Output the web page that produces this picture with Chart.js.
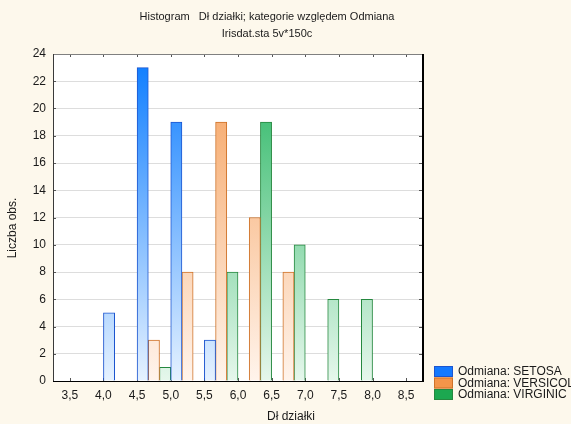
<!DOCTYPE html>
<html>
<head>
<meta charset="utf-8">
<script src="https://cdn.jsdelivr.net/npm/chart.js@4.4.1/dist/chart.umd.min.js"></script>
<style>
    html, body { margin: 0; padding: 0; background: #fdf8ec; }
    #wrap { width: 571px; height: 424px; }
</style>
</head>
<body>
<div id="wrap"><canvas id="histChart" width="571" height="424"></canvas></div>
<script>
// Bins (left edge of each 0.5 wide class) and counts per variety
const binStarts = [3.5, 4.0, 4.5, 5.0, 5.5, 6.0, 6.5, 7.0, 7.5, 8.0];
const binWidth = 0.5;
const setosaCounts     = [0, 5, 23, 19, 3, 0, 0, 0, 0, 0];
const versicolorCounts = [0, 0, 3, 8, 19, 12, 8, 0, 0, 0];
const virginicaCounts  = [0, 0, 1, 0, 8, 19, 10, 6, 6, 0];
const seriesNames = ['Odmiana: SETOSA', 'Odmiana: VERSICOL', 'Odmiana: VIRGINIC'];

// Axis ticks
const xTickValues = [3.5, 4.0, 4.5, 5.0, 5.5, 6.0, 6.5, 7.0, 7.5, 8.0, 8.5];
const xTickLabels = ['3,5', '4,0', '4,5', '5,0', '5,5', '6,0', '6,5', '7,0', '7,5', '8,0', '8,5'];
const yMax = 24;
const yStep = 2;

// Texts
const titleLines = ['Histogram   Dł działki; kategorie względem Odmiana', 'Irisdat.sta 5v*150c'];
const xAxisTitle = 'Dł działki';
const yAxisTitle = 'Liczba obs.';

// Colours for each series (gradient top -> bottom, outline, legend swatch)
const seriesStyles = [
    { top: '#0a7bff', bottom: '#e6f2ff', border: '#1c55cf', swatch: '#1479ff' },
    { top: '#f59e58', bottom: '#fff4ec', border: '#cf7228', swatch: '#f4954a' },
    { top: '#1fb35c', bottom: '#e6f7ec', border: '#25883f', swatch: '#1ca850' }
];

const FONT = '"Liberation Sans", Arial, sans-serif';

// Vertical gradient spanning the whole plot height
function barGradient(ctx, style) {
    const area = ctx.chart.chartArea;
    if (!area) return style.top;
    const g = ctx.chart.ctx.createLinearGradient(0, area.top, 0, area.bottom);
    g.addColorStop(0, style.top);
    g.addColorStop(1, style.bottom);
    return g;
}

function buildDataset(counts, i) {
    const style = seriesStyles[i];
    return {
        label: seriesNames[i],
        data: binStarts.map((b, k) => ({ x: b + binWidth / 2, y: counts[k] === 0 ? null : counts[k] })),
        backgroundColor: ctx => barGradient(ctx, style),
        borderColor: style.border,
        borderWidth: 1,
        borderSkipped: 'start',
        categoryPercentage: 1,
        barPercentage: 1
    };
}

//----PLOT FRAME, TICKS, TITLES & LEGEND----
const decorPlugin = {
    id: 'decor',
    beforeDraw(chart) {
        const { ctx, chartArea: a } = chart;
        ctx.save();
        ctx.fillStyle = '#fdf8ec';
        ctx.fillRect(0, 0, chart.width, chart.height);
        ctx.fillStyle = '#ffffff';
        ctx.fillRect(a.left, a.top, a.right - a.left, a.bottom - a.top);
        ctx.restore();
    },
    beforeDatasetsDraw(chart) {
        // Short inward tick marks on all four sides
        const { ctx, chartArea: a, scales } = chart;
        ctx.save();
        ctx.lineWidth = 1;
        ctx.strokeStyle = '#555555';
        ctx.beginPath();
        xTickValues.forEach(v => {
            const px = Math.round(scales.x.getPixelForValue(v)) + 0.5;
            ctx.moveTo(px, a.top); ctx.lineTo(px, a.top + 3);
            ctx.moveTo(px, a.bottom); ctx.lineTo(px, a.bottom - 3);
        });
        for (let v = 0; v <= yMax; v += yStep) {
            const py = Math.round(scales.y.getPixelForValue(v)) + 0.5;
            ctx.moveTo(a.left, py); ctx.lineTo(a.left + 3, py);
            ctx.moveTo(a.right, py); ctx.lineTo(a.right - 4, py);
        }
        ctx.stroke();
        ctx.restore();
    },
    afterDatasetsDraw(chart) {
        const { ctx, chartArea: a } = chart;
        ctx.save();
        ctx.lineWidth = 1;
        ctx.strokeStyle = '#808080';
        ctx.beginPath();
        ctx.moveTo(a.left, a.top + 0.5); ctx.lineTo(a.right, a.top + 0.5);
        ctx.stroke();
        ctx.strokeStyle = '#3a3a3a';
        ctx.beginPath();
        ctx.moveTo(a.left + 0.5, a.top); ctx.lineTo(a.left + 0.5, a.bottom);
        ctx.stroke();
        ctx.strokeStyle = '#000000';
        ctx.beginPath();
        ctx.moveTo(a.left, a.bottom + 0.5); ctx.lineTo(a.right + 1, a.bottom + 0.5);
        ctx.stroke();
        ctx.lineWidth = 2;
        ctx.beginPath();
        ctx.moveTo(a.right, a.top); ctx.lineTo(a.right, a.bottom + 1);
        ctx.stroke();
        ctx.restore();
    },
    afterDraw(chart) {
        const { ctx } = chart;
        ctx.save();
        ctx.fillStyle = '#1a1a1a';
        ctx.textAlign = 'center';
        ctx.textBaseline = 'middle';
        ctx.font = '11px ' + FONT;
        ctx.fillText(titleLines[0], 267, 17);
        ctx.fillText(titleLines[1], 267, 34);
        ctx.font = '12px ' + FONT;
        ctx.fillText(xAxisTitle, 291, 417);

        ctx.save();
        ctx.translate(13, 228);
        ctx.rotate(-Math.PI / 2);
        ctx.fillText(yAxisTitle, 0, 0);
        ctx.restore();

        // Legend, bottom right
        ctx.textAlign = 'left';
        chart.data.datasets.forEach((ds, i) => {
            const y = 366 + i * 11.5;
            ctx.fillStyle = seriesStyles[i].swatch;
            ctx.fillRect(434, y, 19, 11);
            ctx.strokeStyle = seriesStyles[i].border;
            ctx.lineWidth = 1;
            ctx.strokeRect(434.5, y + 0.5, 18, 10);
            ctx.fillStyle = '#1a1a1a';
            ctx.fillText(ds.label, 458, y + 6);
        });
        ctx.restore();
    }
};

const histChart = new Chart(document.getElementById('histChart').getContext('2d'), {
    type: 'bar',
    data: {
        datasets: [
            buildDataset(setosaCounts, 0),
            buildDataset(versicolorCounts, 1),
            buildDataset(virginicaCounts, 2)
        ]
    },
    options: {
        responsive: false,
        animation: false,
        devicePixelRatio: 1,
        layout: { padding: { top: 54, right: 148, left: 0, bottom: 0 } },
        font: { family: FONT, size: 12 },
        scales: {
            x: {
                type: 'linear',
                offset: false,
                min: xTickValues[0] - binWidth / 2,
                max: xTickValues[xTickValues.length - 1] + binWidth / 2,
                afterBuildTicks: s => { s.ticks = xTickValues.map(v => ({ value: v })); },
                afterFit: s => { s.height = 43; },
                grid: { display: false, drawTicks: false, offset: false },
                border: { display: false },
                ticks: {
                    autoSkip: false,
                    maxRotation: 0,
                    padding: 7,
                    color: '#1a1a1a',
                    font: { family: FONT, size: 12 },
                    callback: (v, i) => xTickLabels[i]
                }
            },
            y: {
                min: 0,
                max: yMax,
                afterFit: s => { s.width = 53; },
                grid: {
                    drawTicks: false,
                    color: ctx => (ctx.tick && (ctx.tick.value === 0 || ctx.tick.value === yMax)) ? 'rgba(0,0,0,0)' : '#dddddd'
                },
                border: { display: false },
                ticks: {
                    stepSize: yStep,
                    padding: 7,
                    color: '#1a1a1a',
                    font: { family: FONT, size: 12 }
                }
            }
        },
        plugins: {
            legend: { display: false },
            tooltip: { enabled: false }
        }
    },
    plugins: [decorPlugin]
});
</script>
</body>
</html>
